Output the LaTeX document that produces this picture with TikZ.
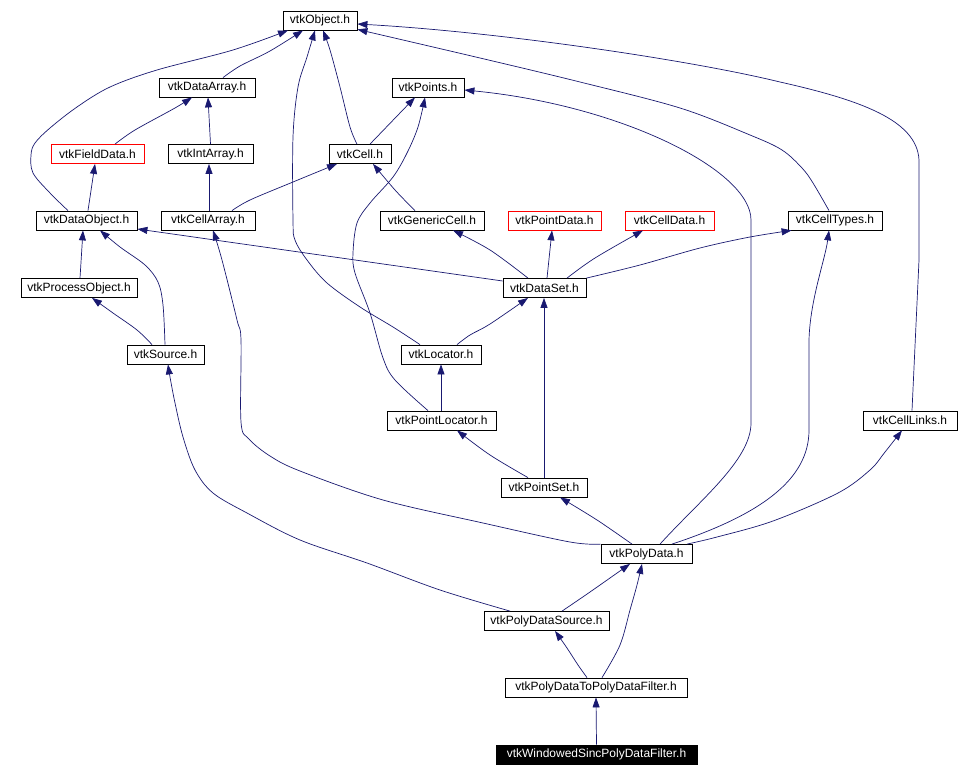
\documentclass[tikz,border=0pt]{standalone}
\usepackage{fontspec}
\setmainfont{Liberation Sans}
\usetikzlibrary{arrows.meta}
\definecolor{edgecol}{HTML}{191970}
\begin{document}
\begin{tikzpicture}[x=1pt,y=-1pt,
  box/.style={draw=black,line width=0.8pt,minimum height=19pt,inner sep=0pt,
    font=\fontsize{12}{14}\selectfont,fill=white},
  redbox/.style={box,draw=red},
  mainbox/.style={box,fill=black,text=white},
  edge/.style={draw=edgecol,line width=0.7pt,-{Triangle[length=10pt,width=7pt]}},
  sm/.style={smooth,tension=0.55},
]
\useasboundingbox (0,0) rectangle (958,776);

% nodes
\node[box,minimum width=74pt]  (obj)    at (320,20.5)  {vtkObject.h};
\node[box,minimum width=96pt]  (darr)   at (207,87.5)  {vtkDataArray.h};
\node[box,minimum width=72pt]  (pts)    at (428,87.5)  {vtkPoints.h};
\node[redbox,minimum width=93pt] (fdata) at (97.5,154) {vtkFieldData.h};
\node[box,minimum width=85pt]  (iarr)   at (210.5,154) {vtkIntArray.h};
\node[box,minimum width=62pt]  (cell)   at (360,154)   {vtkCell.h};
\node[box,minimum width=101pt] (dobj)   at (86.5,220.5) {vtkDataObject.h};
\node[box,minimum width=94pt]  (carr)   at (208,220.5) {vtkCellArray.h};
\node[box,minimum width=104pt] (gcell)  at (432,220.5) {vtkGenericCell.h};
\node[redbox,minimum width=93pt] (pdata) at (554.5,220.5) {vtkPointData.h};
\node[redbox,minimum width=89pt] (cdata) at (669.5,220.5) {vtkCellData.h};
\node[box,minimum width=94pt]  (ctypes) at (835,220.5) {vtkCellTypes.h};
\node[box,minimum width=116pt] (pobj)   at (79,288)    {vtkProcessObject.h};
\node[box,minimum width=83pt]  (dset)   at (544.5,288) {vtkDataSet.h};
\node[box,minimum width=77pt]  (src)    at (165.5,354.5) {vtkSource.h};
\node[box,minimum width=80pt]  (loc)    at (441,354.5) {vtkLocator.h};
\node[box,minimum width=109pt] (ploc)   at (441.5,420.5) {vtkPointLocator.h};
\node[box,minimum width=94pt]  (clinks) at (910,420.5) {vtkCellLinks.h};
\node[box,minimum width=86pt]  (pset)   at (544,487.5) {vtkPointSet.h};
\node[box,minimum width=91pt]  (pdat)   at (646.5,554) {vtkPolyData.h};
\node[box,minimum width=125pt] (pds)    at (546.5,621) {vtkPolyDataSource.h};
\node[box,minimum width=182pt] (f2f)    at (596,687.5) {vtkPolyDataToPolyDataFilter.h};
\node[mainbox,minimum width=201pt] (wsinc) at (596.5,754.5) {vtkWindowedSincPolyDataFilter.h};

% edges (child -> parent)
\draw[edge] plot[sm] coordinates {([xshift=16pt]darr.north) (240,66) (270,51) ([xshift=-17pt]obj.south)};
\draw[edge] plot[sm] coordinates {([xshift=-18.5pt]dobj.north) (50,193) (33,173) (31,155) (35,143) (50,128) (77,107) (110,87) (157,70) (233,50) ([xshift=-32pt]obj.south)};
\draw[edge] plot[sm] coordinates {([xshift=-3pt]cell.north) (350,127) (340,87) (330,50) ([xshift=3pt]obj.south)};
\draw[edge] plot[sm] coordinates {([xshift=-21pt]loc.north) (393,327) (360,307) (327,283) (307,260) (295,240) (293,220) (293,137) (298,87) (307,57) ([xshift=-5pt]obj.south)};
\draw[edge] plot[sm] coordinates {([xshift=-6pt]ctypes.north) (813,183) (802,168) (782,150) (750,135) (680,108) (580,82) (480,58) ([yshift=1pt]obj.south east)};
\draw[edge] ([xshift=2pt]clinks.north) -- (919,260) -- (919,160)
   .. controls (917,120) and (860,100) .. (780,82)
   .. controls (690,60) and (500,32) .. ([yshift=-3.5pt]obj.east);
\draw[edge] ([xshift=13.5pt]pdat.north) .. controls (700,500) and (751,460) .. (751,423)
   -- (751,220) .. controls (751,170) and (620,105) .. ([yshift=-2.5pt]pts.east);
\draw[edge] plot[sm] coordinates {([xshift=17.5pt]fdata.north) (135,130) (175,108) ([xshift=-15pt]darr.south)};
\draw[edge] (iarr.north) -- ([xshift=1pt]darr.south);
\draw[edge] ([xshift=1pt]carr.north) -- ([xshift=-1.5pt]iarr.south);
\draw[edge] plot[sm] coordinates {([xshift=24pt]carr.north) (250,200) (293,182) ([xshift=-23pt]cell.south)};
\draw[edge] plot[sm] coordinates {([xshift=-17pt]gcell.north) (395,190) ([xshift=13pt]cell.south)};
\draw[edge] ([xshift=10pt]cell.north) -- ([xshift=-13pt]pts.south);
\draw[edge] plot[sm] coordinates {([xshift=-13.5pt]ploc.north) (395,380) (383,358) (370,313) (355,273) (353,253) (357,223) (370,203) (393,177) (407,153) (418,127) ([xshift=-3pt]pts.south)};
\draw[edge] ([xshift=1.5pt]dobj.north) -- ([xshift=-2.5pt]fdata.south);
\draw[edge] ([yshift=7pt]dset.west) -- ([yshift=-8.5pt]dobj.east);
\draw[edge] ([xshift=1pt]pobj.north) -- ([xshift=-3.5pt]dobj.south);
\draw[edge] plot[sm] coordinates {([xshift=-0.5pt]src.north) (163,305) (158,282) (145,265) (120,247) ([xshift=13.5pt]dobj.south)};
\draw[edge] plot[sm] coordinates {(pdat.north west) (570,542) (483,523) (383,500) (300,471) (270,456) (249,439) (241,422) (241,340) (237,320) (222,260) ([xshift=5pt]carr.south)};
\draw[edge] plot[sm] coordinates {([xshift=-16.5pt]dset.north) (490,250) ([xshift=21pt]gcell.south)};
\draw[edge] ([xshift=2.5pt]dset.north) -- ([xshift=-2.5pt]pdata.south);
\draw[edge] plot[sm] coordinates {([xshift=22.5pt]dset.north) (595,258) ([xshift=-26.5pt]cdata.south)};
\draw[edge] plot[sm] coordinates {(dset.north east) (640,265) (700,248) (750,237) ([xshift=4pt]ctypes.south west)};
\draw[edge] ([xshift=25.5pt]pdat.north) .. controls (760,515) and (809,480) .. (809,430)
   -- (809,340) .. controls (810,300) and (825,260) .. ([xshift=-6pt]ctypes.south);
\draw[edge] plot[sm] coordinates {([xshift=-13.5pt]src.north) (137,330) (113,313) ([xshift=13pt]pobj.south)};
\draw[edge] plot[sm] coordinates {([xshift=16pt]loc.north) (470,335) (490,324) ([xshift=-16.5pt]dset.south)};
\draw[edge] (pset.north) -- (pset.north |- dset.south);
\draw[edge] plot[sm] coordinates {([xshift=-36.5pt]pds.north) (440,590) (367,563) (300,540) (247,513) (213,493) (195,470) (183,437) (175,403) (170,377) ([xshift=2.5pt]src.south)};
\draw[edge] (loc.south |- ploc.north) -- (loc.south);
\draw[edge] plot[sm] coordinates {([xshift=-16pt]pset.north) (490,455) ([xshift=15.5pt]ploc.south)};
\draw[edge] plot[sm] coordinates {([xshift=40.5pt]pdat.north) (717,537) (773,521) (838,493) (870,470) (885,452) ([xshift=-8pt]clinks.south)};
\draw[edge] plot[sm] coordinates {([xshift=-14.5pt]pdat.north) (597,520) ([xshift=16pt]pset.south)};
\draw[edge] plot[sm] coordinates {([xshift=15.5pt]pds.north) (590,592) ([xshift=-16.5pt]pdat.south)};
\draw[edge] plot[sm] coordinates {([xshift=6pt]f2f.north) (620,645) (630,610) (637,585) ([xshift=-4.5pt]pdat.south)};
\draw[edge] plot[sm] coordinates {([xshift=-9pt]f2f.north) (578,665) (567,648) ([xshift=8.5pt]pds.south)};
\draw[edge] (wsinc.north) -- (f2f.south);
\end{tikzpicture}
\end{document}
